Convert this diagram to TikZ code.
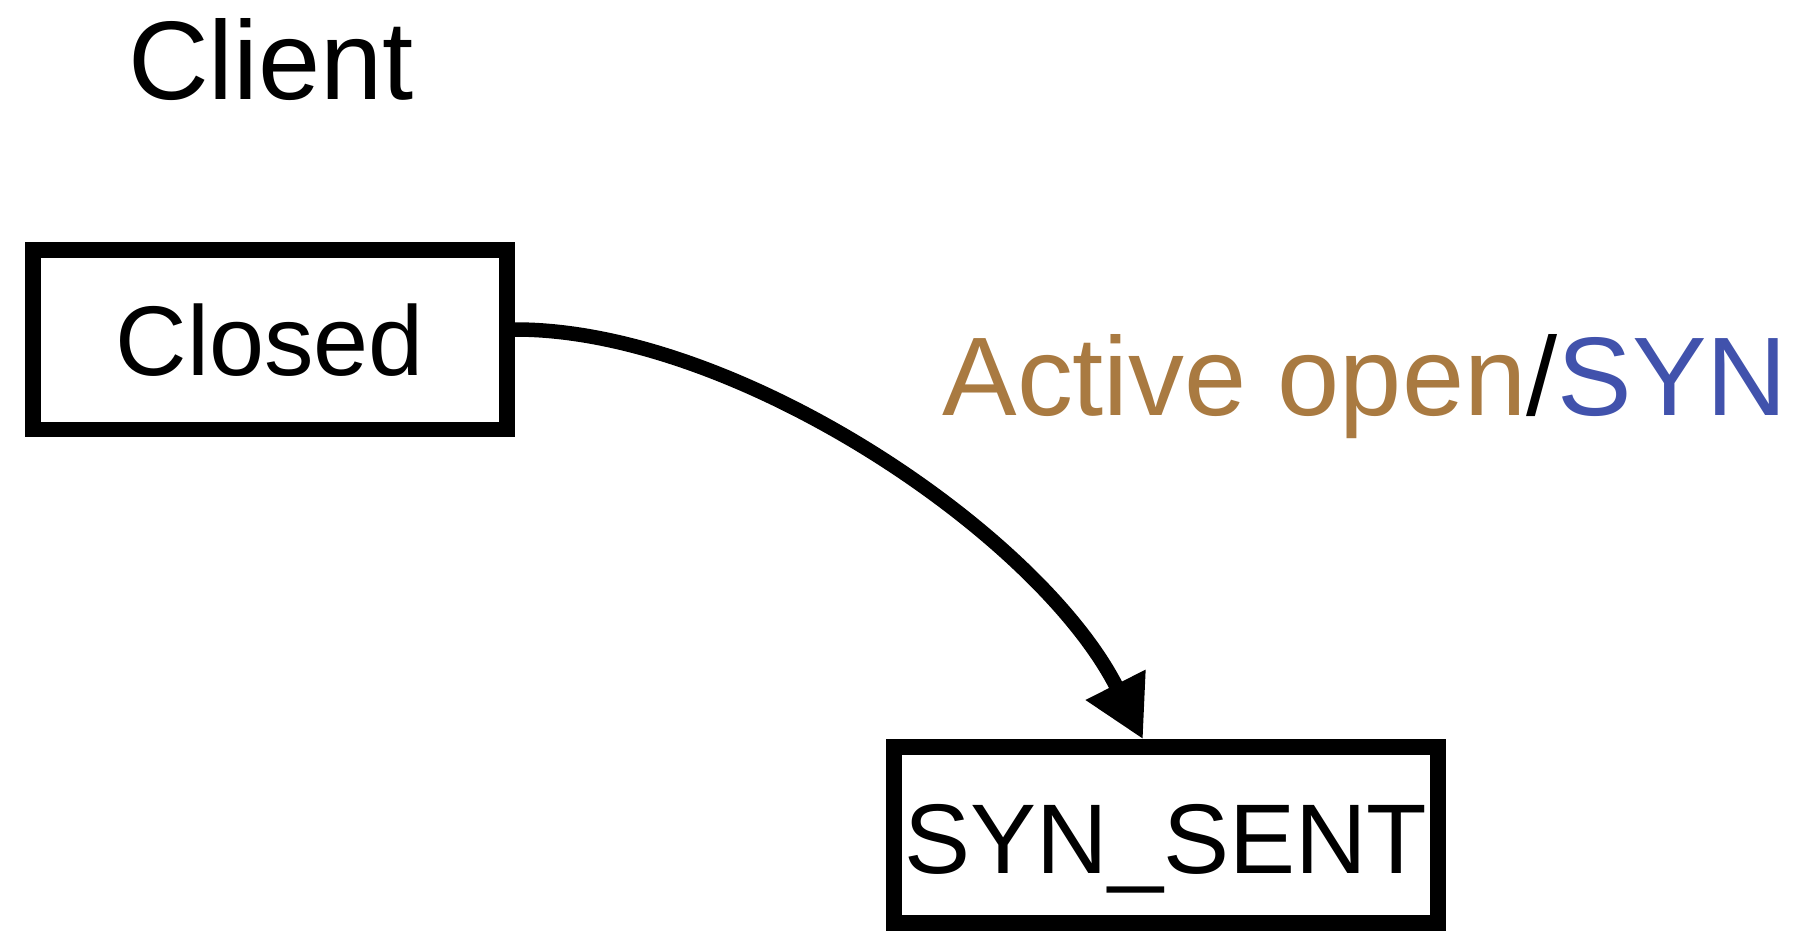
\documentclass[tikz,border=0pt]{standalone}
\usepackage{fontspec}
\setmainfont{Liberation Sans}
\usetikzlibrary{arrows.meta,calc}
\definecolor{evtbrown}{HTML}{A97A41}
\definecolor{actblue}{HTML}{4152AC}
\tikzset{
  state/.style={draw=black, line width=7.75pt, rectangle, inner sep=0pt,
    text height=35.5pt, text depth=0pt, font=\fontsize{49.5}{50}\selectfont},
  title/.style={inner sep=0pt, font=\fontsize{55.9}{56}\selectfont},
  trans/.style={draw=black, line width=7.25pt,
    -{Triangle[length=30.5pt,width=31.5pt]}},
  evlabel/.style={inner sep=0pt, font=\fontsize{55.9}{56}\selectfont}
}
\begin{document}
\begin{tikzpicture}[x=0.5pt,y=-0.5pt]
  \useasboundingbox (0,0) rectangle (1808,931);
  % heading
  \node[title, anchor=base] (client) at (271,100) {Client};
  % states
  \node[state, minimum width=237pt, minimum height=89.75pt] (closed) at (270,339.5) {Closed};
  \node[state, minimum width=272pt, minimum height=88pt, text height=38pt] (synsent) at (1166,835) {SYN\_SENT};
  % transition
  \coordinate (from) at ($(closed.east)+(0,-10)$);
  \coordinate (to) at ($(synsent.north)+(-23,0)$);
  \draw[trans] (from) .. controls (736,329) and (1039.5,534) .. (to);
  \node[evlabel, anchor=base] (lbl) at (1365,415)
    {\textcolor{evtbrown}{Active open}/\textcolor{actblue}{SYN}};
\end{tikzpicture}
\end{document}
